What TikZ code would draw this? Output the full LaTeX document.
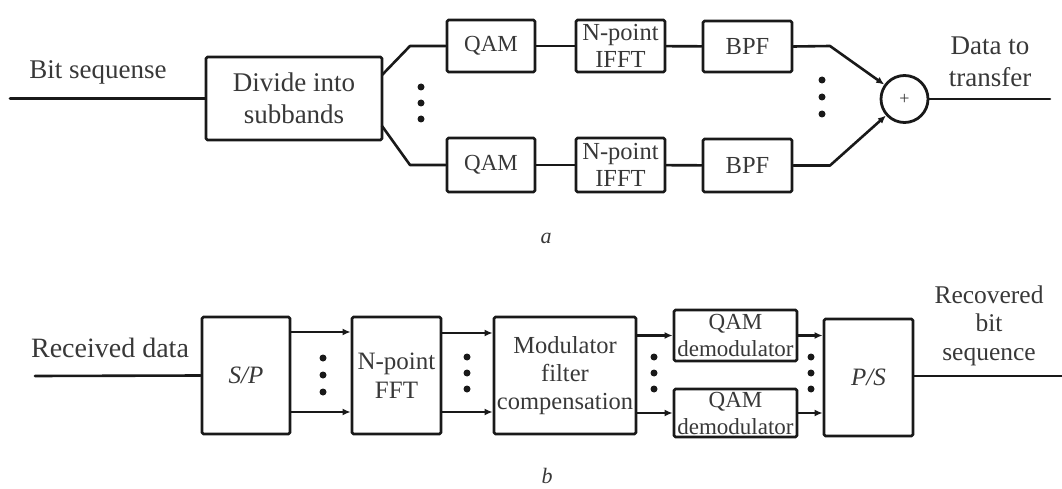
\documentclass[tikz,border=0pt]{standalone}
\usepackage{fontspec}
\setmainfont{Liberation Serif}
\usetikzlibrary{arrows.meta}
\definecolor{ink}{gray}{0.1}
\definecolor{txt}{gray}{0.22}
\begin{document}
\begin{tikzpicture}[x=1pt,y=-1pt,
  line width=2.6pt, draw=ink, line join=round, line cap=round,
  blk/.style={draw=ink, line width=2.8pt, rounded corners=1.5pt, inner sep=0pt,
    align=center, text=txt},
  big/.style={font=\fontsize{27}{32}\selectfont},
  mid/.style={font=\fontsize{24.5}{28}\selectfont},
  sml/.style={font=\fontsize{23}{27}\selectfont},
  lbl/.style={text=txt, inner sep=0pt, align=center},
  arr/.style={-{Latex[length=8pt,width=7pt]}},
  vdot/.style={fill=ink, circle, inner sep=0pt, minimum size=7pt}]
\useasboundingbox (0,0) rectangle (1062,489);

% ---------- transmitter ----------
\coordinate (tin) at (10,98.5);
\node[blk,big,minimum width=176pt,minimum height=83pt] (div) at (294,98.5) {Divide into\\subbands};
\node[blk,sml,minimum width=88pt,minimum height=52pt] (qam1) at (491,46) {QAM};
\node[blk,sml,minimum width=88pt,minimum height=54pt] (qam2) at (491,165) {QAM};
\node[blk,minimum width=89pt,minimum height=52pt,font=\fontsize{24.5}{27}\selectfont] (ifft1) at (620.5,46) {N-point\\IFFT};
\node[blk,minimum width=89pt,minimum height=54pt,font=\fontsize{24.5}{27}\selectfont] (ifft2) at (620.5,165) {N-point\\IFFT};
\node[blk,mid,minimum width=89pt,minimum height=51pt] (bpf1) at (747.5,46.5) {BPF};
\node[blk,mid,minimum width=89pt,minimum height=53pt] (bpf2) at (747.5,165.5) {BPF};
\node[draw=ink,line width=2.8pt,circle,minimum size=47pt,inner sep=0pt,text=txt,
  font=\fontsize{18}{18}\selectfont] (sum) at (904.5,99) {+};
\coordinate (tout) at (1050,99);

\coordinate (s1) at (382,75);  \coordinate (k1) at (410,46);
\coordinate (s2) at (382,126); \coordinate (k2) at (410,165);
\coordinate (m1) at (830,46);  \coordinate (m2) at (830,165.5);

\draw (tin) -- (div.west);
\draw (s1) -- (k1) -- (qam1.west);
\draw (s2) -- (k2) -- (qam2.west);
\draw (qam1) -- (ifft1);
\draw (qam2) -- (ifft2);
\draw (ifft1) -- (bpf1);
\draw (ifft2) -- (bpf2);
\draw[arr] (bpf1.east) -- (m1) -- (sum);
\draw[arr] (bpf2.east) -- (m2) -- (sum);
\draw (sum.east) -- (tout);

\foreach \y in {87,103,119} \node[vdot] at (421,\y) {};
\foreach \y in {80,97,114} \node[vdot] at (822,\y) {};

\node[lbl,big,anchor=base] (tlab) at (98,79) {Bit sequense};
\node[lbl,big,anchor=base] (olab) at (990,87) {Data to\\transfer};
\node[lbl,font=\fontsize{22}{22}\selectfont\itshape] (capa) at (546,238) {a};

% ---------- receiver ----------
\coordinate (rin) at (35,376);
\node[blk,minimum width=88pt,minimum height=117pt,font=\fontsize{25}{25}\selectfont\itshape] (sp) at (246,375.5) {S/P};
\node[blk,minimum width=89pt,minimum height=117pt,font=\fontsize{25}{29}\selectfont] (fft) at (396.5,375.5) {N-point\\FFT};
\node[blk,minimum width=142pt,minimum height=117pt,font=\fontsize{24.5}{28}\selectfont] (mod) at (565,375.5) {Modulator\\filter\\compensation};
\node[blk,minimum width=123pt,minimum height=51pt,font=\fontsize{23}{27}\selectfont] (dem1) at (735.5,335.5) {QAM\\demodulator};
\node[blk,minimum width=123pt,minimum height=48pt,font=\fontsize{23}{27}\selectfont] (dem2) at (735.5,413) {QAM\\demodulator};
\node[blk,minimum width=89pt,minimum height=117pt,font=\fontsize{25}{25}\selectfont\itshape] (ps) at (868.5,377.5) {P/S};
\coordinate (rout) at (1062,376);

\draw (rin) -- (sp.west);
\draw[arr] (sp.east |- 0,332) -- (fft.west |- 0,332);
\draw[arr] (sp.east |- 0,412) -- (fft.west |- 0,412);
\draw[arr] (fft.east |- 0,333) -- (mod.west |- 0,333);
\draw[arr] (fft.east |- 0,412) -- (mod.west |- 0,412);
\draw[arr] (mod.east |- dem1) -- (dem1.west);
\draw[arr] (mod.east |- dem2) -- (dem2.west);
\draw[arr] (dem1.east) -- (ps.west |- dem1);
\draw[arr] (dem2.east) -- (ps.west |- dem2);
\draw (ps.east |- rout) -- (rout);

\foreach \y in {358,375,392} \node[vdot] at (323,\y) {};
\foreach \y in {357,373,389} \node[vdot] at (467,\y) {};
\foreach \y in {357,373,389} \node[vdot] at (654,\y) {};
\foreach \y in {357,373,389} \node[vdot] at (811,\y) {};

\node[lbl,font=\fontsize{28}{32}\selectfont,anchor=base] (rlab) at (110,357) {Received data};
\node[lbl,font=\fontsize{25.5}{28.5}\selectfont,anchor=base] (plab) at (989,360) {Recovered\\bit\\sequence};
\node[lbl,font=\fontsize{22}{22}\selectfont\itshape] (capb) at (547,476) {b};
\end{tikzpicture}
\end{document}
